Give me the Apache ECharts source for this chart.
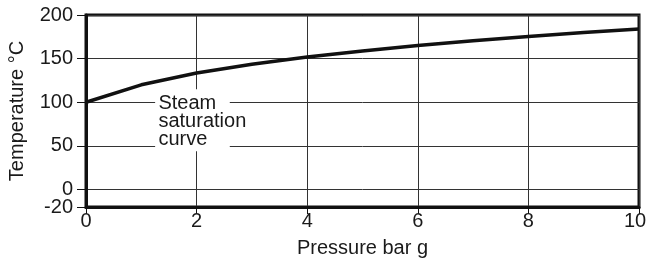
<!DOCTYPE html>
<html>
<head>
<meta charset="utf-8">
<script src="https://cdn.jsdelivr.net/npm/echarts@6/dist/echarts.min.js"></script>
<style>html,body{margin:0;padding:0;background:#fff}#c{width:646px;height:259px}</style>
</head>
<body>
<div id="c"></div>
<script>
// Data
const pressure = [0, 1, 2, 3, 4, 5, 6, 7, 8, 9, 10];
const temperature = [100, 120, 133.5, 143.6, 151.8, 158.8, 165, 170.4, 175.4, 179.9, 184];
const yTicksMain = [0, 50, 100, 150, 200];
const yTicksMin = [-20];
const xTicks = [0, 2, 4, 6, 8, 10];
const curveLabel = ['Steam', 'saturation', 'curve'];
const labelBox = [[1.25, 44], [2.6, 115]];

const FONT = 'Liberation Sans, Arial, Helvetica, sans-serif';
const Y_MIN = -20, Y_MAX = 200;
const X_MAX = xTicks[xTicks.length - 1];
const chart = echarts.init(document.getElementById('c'), null, {renderer: 'canvas'});
const labelStyle = {fontFamily: FONT, fontSize: 20, color: '#1a1a1a'};
chart.setOption({
  animation: false,
  backgroundColor: '#fff',
  grid: {left: 86, right: 7, top: 15, bottom: 52, show: true, borderColor: '#111', borderWidth: 3,
         containLabel: false, outerBoundsMode: 'none'},
  xAxis: {
    type: 'value', min: 0, max: X_MAX, interval: 2,
    name: 'Pressure bar g', nameLocation: 'middle', nameGap: 31,
    nameTextStyle: labelStyle,
    axisLine: {show: true, onZero: false, lineStyle: {color: '#111', width: 3}},
    axisTick: {show: true, length: 7, lineStyle: {color: '#111', width: 1}, customValues: xTicks},
    axisLabel: Object.assign({
      margin: 4, customValues: xTicks, showMinLabel: true, showMaxLabel: true,
      formatter: v => v === X_MAX ? '{r|' + v + '}' : String(v),
      rich: {r: {fontFamily: FONT, fontSize: 20, color: '#1a1a1a', padding: [0, 8, 0, 0]}}
    }, labelStyle),
    splitLine: {show: true, lineStyle: {color: '#333', width: 1}}
  },
  yAxis: [{
    type: 'value', min: Y_MIN, max: Y_MAX, position: 'left',
    name: 'Temperature °C', nameLocation: 'middle', nameGap: 59,
    nameTextStyle: labelStyle,
    axisLine: {show: true, onZero: false, lineStyle: {color: '#111', width: 3}},
    axisTick: {show: true, length: 9, lineStyle: {color: '#111', width: 1}, customValues: yTicksMain},
    axisLabel: Object.assign({margin: 13, customValues: yTicksMain, showMinLabel: true, showMaxLabel: true}, labelStyle),
    splitLine: {show: true, lineStyle: {color: '#333', width: 1}}
  }, {
    type: 'value', min: Y_MIN, max: Y_MAX, position: 'left', offset: 0,
    axisLine: {show: false, onZero: false},
    axisTick: {show: true, length: 9, lineStyle: {color: '#111', width: 1}, customValues: yTicksMin},
    axisLabel: Object.assign({margin: 13, customValues: yTicksMin, showMinLabel: true}, labelStyle),
    splitLine: {show: false}
  }],
  series: [
    {
      type: 'line', z: 2, data: [], silent: true,
      markArea: {
        silent: true,
        itemStyle: {color: '#fff', opacity: 1},
        label: {show: false},
        data: [[{coord: labelBox[0]}, {coord: labelBox[1]}]]
      },
      markPoint: {
        silent: true, symbol: 'circle', symbolSize: 0,
        label: {show: true, position: 'inside', align: 'left', verticalAlign: 'top',
          formatter: curveLabel.join('\n'), fontFamily: FONT, fontSize: 20, lineHeight: 18, color: '#1a1a1a'},
        data: [{coord: [labelBox[0][0] + 0.06, labelBox[1][1] - 6]}]
      }
    },
    {
      type: 'line', z: 3, data: pressure.map((p, i) => [p, temperature[i]]),
      showSymbol: false, smooth: false,
      lineStyle: {color: '#111', width: 3.5}
    }
  ]
});
</script>
</body>
</html>
